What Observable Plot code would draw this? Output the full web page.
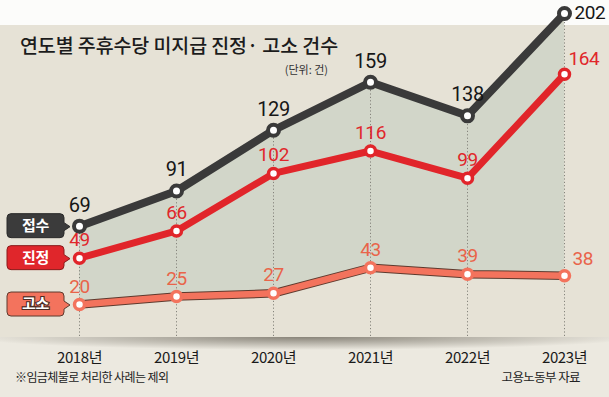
<!DOCTYPE html>
<html>
<head>
<meta charset="utf-8">
<script src="https://cdn.jsdelivr.net/npm/d3@7"></script>
<script src="https://cdn.jsdelivr.net/npm/@observablehq/plot@0.6"></script>
<style>
  html, body { margin: 0; padding: 0; background: #ffffff; }
  #wrap {
    position: relative; width: 609px; height: 397px; overflow: hidden;
    font-family: "Noto Sans CJK KR", "Noto Sans", sans-serif;
    background: linear-gradient(to bottom, #fcfcfa 0, #fcfcfa 25px, #e6e2d6 25px, #e6e2d6 337px, #ece9e0 337px, #ece9e0 100%);
  }
  #shadow {
    position: absolute; left: 0; top: 337px; width: 609px; height: 13px;
    background: radial-gradient(ellipse 55% 100% at 50% 0, rgba(70,64,52,0.6), rgba(70,64,52,0) 100%);
  }
  .t { position: absolute; white-space: nowrap; line-height: 1; color: #1c1c1c; }
  #title { left: 20px; top: 35px; font-size: 19.5px; font-weight: 500; letter-spacing: -0.1px; }
  #unit { right: 281px; top: 64px; font-size: 11px; color: #333; }
  #note { left: 15px; top: 371px; font-size: 12px; letter-spacing: -0.6px; color: #222; }
  #source { right: 29px; top: 371px; font-size: 12.5px; letter-spacing: -0.6px; color: #222; }
  #chart { position: absolute; left: 0; top: 0; }
</style>
</head>
<body>
<div id="wrap">
  <div id="shadow"></div>
  <div id="chart"></div>
  <div class="t" id="title">연도별 주휴수당 미지급 진정· 고소 건수</div>
  <div class="t" id="unit">(단위: 건)</div>
  <div class="t" id="note">※임금체불로 처리한 사례는 제외</div>
  <div class="t" id="source">고용노동부 자료</div>
</div>
<script>
// ---- data ----
const years = [2018, 2019, 2020, 2021, 2022, 2023];
const jeopsu = [69, 91, 129, 159, 138, 202];    // 접수
const jinjeong = [49, 66, 102, 116, 99, 164];   // 진정
const goso = [20, 25, 27, 43, 39, 38];          // 고소
const seriesNames = ["접수", "진정", "고소"];
const yearSuffix = "년";

// ---- styling ----
const C_BLACK = "#3a3a3a";
const C_RED = "#e1252a";
const C_SALMON = "#f3735d";
const C_SALMON_EDGE = "#5e3a2e";
const C_AREA = "#d2d6c9";

const rows = years.map((year, i) => ({year, jeopsu: jeopsu[i], jinjeong: jinjeong[i], goso: goso[i]}));
const last = rows.length - 1;
const notLast = (d, i) => i < last;
const isLast = (d, i) => i === last;

// badges (series labels) drawn at the first value of each series
function badges(index, scales, values, dimensions) {
  const g = d3.create("svg:g");
  const x0 = scales.x(years[0]);
  const specs = [
    {name: seriesNames[0], v: jeopsu[0], fill: "#3b3b3b", edge: "#2a2a2a", textStroke: null},
    {name: seriesNames[1], v: jinjeong[0], fill: "#e0262b", edge: "#8a1a1a", textStroke: null},
    {name: seriesNames[2], v: goso[0], fill: C_SALMON, edge: C_SALMON_EDGE, textStroke: "#4a2a22"}
  ];
  for (const s of specs) {
    const y = scales.y(s.v);
    const L = 7, R = x0 - 15, T = y - 12, B = y + 12, r = 4;
    const p = `M${L + r},${T} H${R - r} Q${R},${T} ${R},${T + r} V${y - 3} L${R + 6},${y + 1} L${R},${y + 5} V${B - r} Q${R},${B} ${R - r},${B} H${L + r} Q${L},${B} ${L},${B - r} V${T + r} Q${L},${T} ${L + r},${T} Z`;
    g.append("path").attr("d", p).attr("fill", s.fill).attr("stroke", s.edge).attr("stroke-width", 1);
    const t = g.append("text")
      .attr("x", (L + R) / 2).attr("y", y).attr("dy", "0.36em")
      .attr("text-anchor", "middle").attr("fill", "#ffffff")
      .attr("font-size", 15).attr("font-weight", 700)
      .attr("font-family", "'Noto Sans CJK KR', sans-serif")
      .text(s.name);
    if (s.textStroke) t.attr("stroke", s.textStroke).attr("stroke-width", 2.2).attr("paint-order", "stroke");
  }
  return g.node();
}

const numFont = "Roboto, 'Noto Sans', sans-serif";

const chart = Plot.plot({
  width: 609,
  height: 397,
  marginTop: 13,
  marginBottom: 61,
  marginLeft: 77,
  marginRight: 44,
  style: {background: "transparent", fontFamily: "'Noto Sans CJK KR', 'Noto Sans', sans-serif", overflow: "visible", letterSpacing: "-0.4px"},
  x: {type: "point", domain: years, padding: 0, label: null},
  y: {domain: [0, 202], axis: null},
  marks: [
    Plot.areaY(rows, {x: "year", y1: "goso", y2: "jeopsu", fill: C_AREA}),
    Plot.ruleX(rows, {x: "year", y1: 0, y2: "jeopsu", stroke: "#85847c", strokeDasharray: "1.2,2.2", strokeWidth: 1}),
    Plot.lineY(rows, {x: "year", y: "goso", stroke: C_SALMON_EDGE, strokeWidth: 8.5}),
    Plot.lineY(rows, {x: "year", y: "goso", stroke: C_SALMON, strokeWidth: 6.5}),
    Plot.lineY(rows, {x: "year", y: "jinjeong", stroke: C_RED, strokeWidth: 7}),
    Plot.lineY(rows, {x: "year", y: "jeopsu", stroke: C_BLACK, strokeWidth: 8}),
    Plot.dot(rows, {x: "year", y: "goso", r: 5, fill: "white", stroke: C_SALMON, strokeWidth: 3.5}),
    Plot.dot(rows, {x: "year", y: "jinjeong", r: 5, fill: "white", stroke: C_RED, strokeWidth: 3.5}),
    Plot.dot(rows, {x: "year", y: "jeopsu", r: 5.5, fill: "white", stroke: C_BLACK, strokeWidth: 4}),
    // value labels
    Plot.text(rows, {filter: notLast, x: "year", y: "jeopsu", text: d => String(d.jeopsu), dy: -21, fontSize: 20, fill: "#161616", fontFamily: numFont}),
    Plot.text(rows, {filter: isLast, x: "year", y: "jeopsu", text: d => String(d.jeopsu), dx: 10, dy: -1, textAnchor: "start", fontSize: 19, fill: "#161616", fontFamily: numFont}),
    Plot.text(rows, {filter: notLast, x: "year", y: "jinjeong", text: d => String(d.jinjeong), dy: -18, fontSize: 19, fill: "#e0272b", fontFamily: numFont}),
    Plot.text(rows, {filter: isLast, x: "year", y: "jinjeong", text: d => String(d.jinjeong), dx: 4, dy: -15, textAnchor: "start", fontSize: 19, fill: "#e0272b", fontFamily: numFont}),
    Plot.text(rows, {filter: notLast, x: "year", y: "goso", text: d => String(d.goso), dy: -18, fontSize: 19, fill: "#e9644a", fontFamily: numFont}),
    Plot.text(rows, {filter: isLast, x: "year", y: "goso", text: d => String(d.goso), dx: 8, dy: -17, textAnchor: "start", fontSize: 19, fill: "#e9644a", fontFamily: numFont}),
    Plot.axisX({tickSize: 0, tickPadding: 16, fontSize: 15, tickFormat: d => `${d}${yearSuffix}`, fill: "#1a1a1a", label: null}),
    badges
  ]
});
document.getElementById("chart").appendChild(chart);
</script>
</body>
</html>
